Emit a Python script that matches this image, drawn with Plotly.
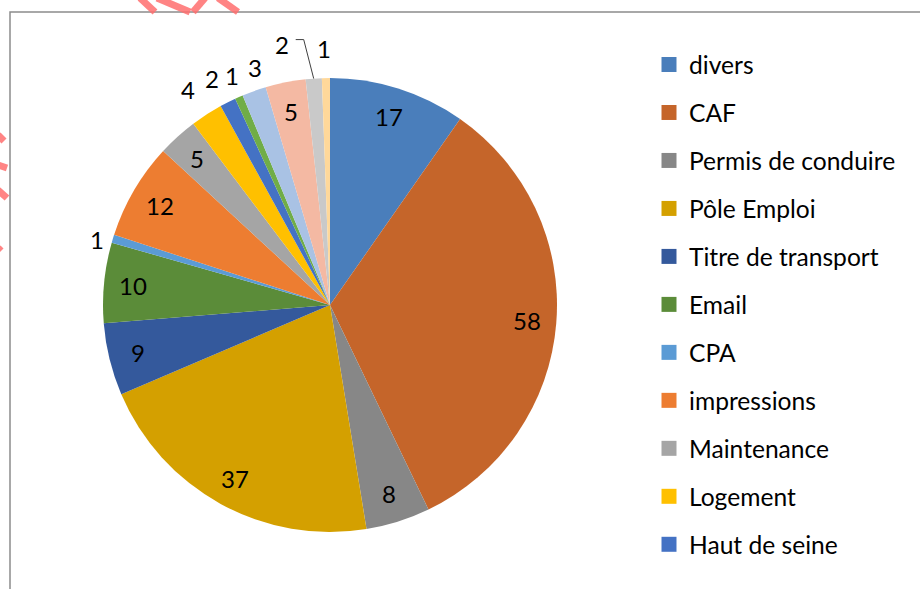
import math
import plotly.graph_objects as go

# ---- data ----
categories = ["divers", "CAF", "Permis de conduire", "Pôle Emploi", "Titre de transport",
              "Email", "CPA", "impressions", "Maintenance", "Logement", "Haut de seine",
              "Catégorie 12", "Catégorie 13", "Catégorie 14", "Catégorie 15", "Catégorie 16"]
values = [17, 58, 8, 37, 9, 10, 1, 12, 5, 4, 2, 1, 3, 5, 2, 1]
colors = ["#4A7EBB", "#C5652A", "#878787", "#D4A000", "#34599C",
          "#5B8C39", "#5B9BD5", "#ED7D31", "#A5A5A5", "#FFC000", "#4472C4",
          "#70AD47", "#A9C2E4", "#F4B9A3", "#C9C9C9", "#FFD89A"]
label_modes = ["in", "in", "in", "in", "in", "in", "out", "in", "in", "out", "out",
               "out", "out", "in", "leader", "out"]
# small pixel nudges applied to the outside labels (style only)
label_nudges = [(0, 0), (0, 0), (0, 0), (0, 0), (0, 0), (0, 0), (10, 9), (0, 0), (0, 0),
                (-4, -2), (-4, 0), (4, 3), (10, 2), (0, 0), (0, 0), (-1, -3)]
legend_count = 11  # the reference legend shows only the first 11 categories

W, H = 920, 589
FONT = "Lato"
NUM_SIZE = 24
LEG_SIZE = 24.6


def px(x):
    return x / W


def py(y):
    return 1 - y / H


fig = go.Figure()

cx, cy, r = 330, 305, 227
fig.add_trace(go.Pie(
    labels=categories,
    values=values,
    marker=dict(colors=colors, line=dict(color="white", width=0)),
    sort=False,
    direction="clockwise",
    rotation=0,
    textinfo="none",
    showlegend=False,
    domain=dict(x=[px(cx - r), px(cx + r)], y=[py(cy + r), py(cy - r)]),
    hoverinfo="label+value",
))

shapes = [
    dict(type="rect", xref="paper", yref="paper",
         x0=px(10), x1=px(960), y0=py(630), y1=py(12),
         line=dict(color="#8C8C8C", width=1.5), fillcolor="rgba(0,0,0,0)", layer="below"),
]

# data labels placed at each slice's mid-angle (derived from the values)
annotations = []
total = float(sum(values))
cum = 0.0
for v, mode, (nx, ny) in zip(values, label_modes, label_nudges):
    theta = (cum + v / 2.0) / total * 2 * math.pi
    cum += v
    s, c = math.sin(theta), math.cos(theta)
    font = dict(family=FONT, size=NUM_SIZE, color="black")
    if mode == "in":
        R = 0.87 * r
        annotations.append(dict(x=px(cx + R * s), y=py(cy - R * c), xref="paper", yref="paper",
                                text=str(v), showarrow=False, xanchor="center", yanchor="middle",
                                font=font))
    elif mode == "out":
        R = r + 27
        annotations.append(dict(x=px(cx + R * s + nx), y=py(cy - R * c + ny),
                                xref="paper", yref="paper",
                                text=str(v), showarrow=False, xanchor="center", yanchor="middle",
                                font=font))
    else:
        ex, ey = cx + r * s, cy - r * c
        shapes.append(dict(type="path", xref="paper", yref="paper",
                           path="M %f,%f L %f,%f L %f,%f" % (px(ex), py(ey), px(ex - 10), py(ey - 39),
                                                          px(ex - 18), py(ey - 39)),
                           line=dict(color="#404040", width=1)))
        annotations.append(dict(x=px(ex - 32), y=py(ey - 34), xref="paper", yref="paper",
                                text=str(v), showarrow=False, xanchor="center", yanchor="middle",
                                font=font))

# legend entries
for i in range(legend_count):
    fig.add_trace(go.Scatter(
        x=[None], y=[None], mode="markers", name=categories[i],
        legendgroup="g%d" % i,
        marker=dict(symbol="square", size=15, color=colors[i]),
        hoverinfo="skip",
    ))

pink = "rgba(255,110,110,0.85)"
for (x0, y0, x1, y1) in [(140, -2, 155, 12), (157, -2, 190, 12), (205, -2, 193, 12),
                         (218, -2, 238, 12)]:
    shapes.append(dict(type="line", xref="paper", yref="paper",
                       x0=px(x0), y0=py(y0), x1=px(x1), y1=py(y1),
                       line=dict(color=pink, width=7)))
for (x0, y0, x1, y1) in [(-2, 135, 4, 141), (-2, 165, 7, 168), (-2, 190, 7, 198), (-2, 248, 1, 251)]:
    shapes.append(dict(type="line", xref="paper", yref="paper",
                       x0=px(x0), y0=py(y0), x1=px(x1), y1=py(y1),
                       line=dict(color=pink, width=7)))

fig.update_layout(
    width=W, height=H,
    margin=dict(l=0, r=0, t=0, b=0),
    paper_bgcolor="white",
    plot_bgcolor="white",
    font=dict(family=FONT, size=LEG_SIZE, color="black"),
    xaxis=dict(visible=False),
    yaxis=dict(visible=False),
    legend=dict(
        x=px(649), y=py(42), xanchor="left", yanchor="top",
        traceorder="grouped", tracegroupgap=13,
        font=dict(family=FONT, size=LEG_SIZE, color="black"),
        bgcolor="rgba(0,0,0,0)",
        itemclick=False, itemdoubleclick=False,
    ),
    shapes=shapes,
    annotations=annotations,
)

fig.write_html("out.html", config={"displayModeBar": False},
               post_script="document.body.style.margin='0';")
